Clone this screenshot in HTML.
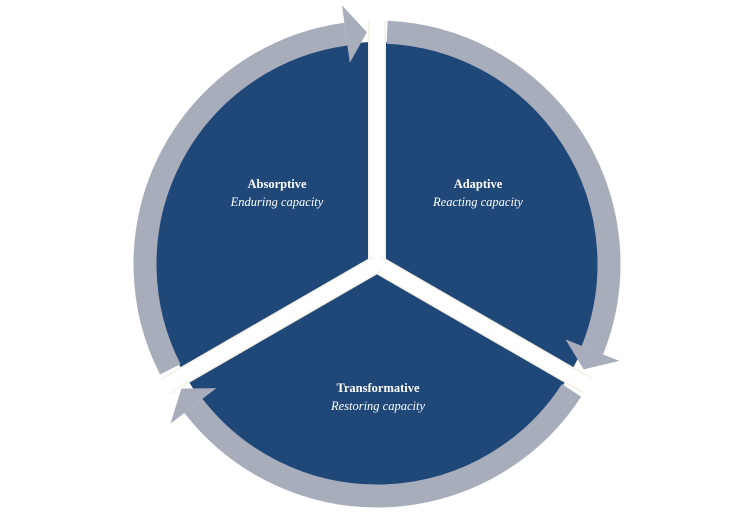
<!DOCTYPE html>
<html><head><meta charset="utf-8"><style>
html,body{margin:0;padding:0;background:#fff;}
svg{display:block;}
text{font-family:"Liberation Serif",serif;fill:#fff;font-size:12.5px;}
</style></head><body>
<svg id="s" width="750" height="522" viewBox="0 0 750 522" xmlns="http://www.w3.org/2000/svg">
<circle cx="377" cy="264" r="222" fill="#1f4778"/>
<g id="ring"></g>
<g id="gaps"></g>
<g id="heads"></g>
<text x="277" y="188" text-anchor="middle" font-weight="bold">Absorptive</text>
<text x="277" y="206" text-anchor="middle" font-style="italic">Enduring capacity</text>
<text x="478" y="188" text-anchor="middle" font-weight="bold">Adaptive</text>
<text x="478" y="206" text-anchor="middle" font-style="italic">Reacting capacity</text>
<text x="378" y="392" text-anchor="middle" font-weight="bold">Transformative</text>
<text x="378" y="410" text-anchor="middle" font-style="italic">Restoring capacity</text>
</svg>
<script>
var cx=377,cy=264,R=232,NS="http://www.w3.org/2000/svg";
function P(a,r){var t=a*Math.PI/180;return [cx+r*Math.cos(t),cy+r*Math.sin(t)];}
function el(g,tag,attrs){var e=document.createElementNS(NS,tag);for(var k in attrs)e.setAttribute(k,attrs[k]);document.getElementById(g).appendChild(e);}
var segs=[[153,267.5],[272.5,387],[33,147.5]];
segs.forEach(function(s){
  var a0=s[0],tip=s[1],base=tip-5.2;
  var p0=P(a0,R),p1=P(base,R);
  el("ring","path",{d:"M"+p0[0]+" "+p0[1]+" A"+R+" "+R+" 0 0 1 "+p1[0]+" "+p1[1],fill:"none",stroke:"#a8adbb","stroke-width":23});
  var b1=P(base,R-29),b2=P(base,R+29),t=P(tip,R);
  el("heads","polygon",{points:b1.join(",")+" "+t.join(",")+" "+b2.join(","),fill:"#a8adbb"});
});
[270,30,150].forEach(function(a){
  var e=P(a,244);
  el("gaps","line",{x1:cx,y1:cy,x2:e[0],y2:e[1],stroke:"#f3f0e4","stroke-width":18});
  var e2=P(a,262);
  el("gaps","line",{x1:cx,y1:cy,x2:e2[0],y2:e2[1],stroke:"#fff","stroke-width":15});
});
</script>
</body></html>
